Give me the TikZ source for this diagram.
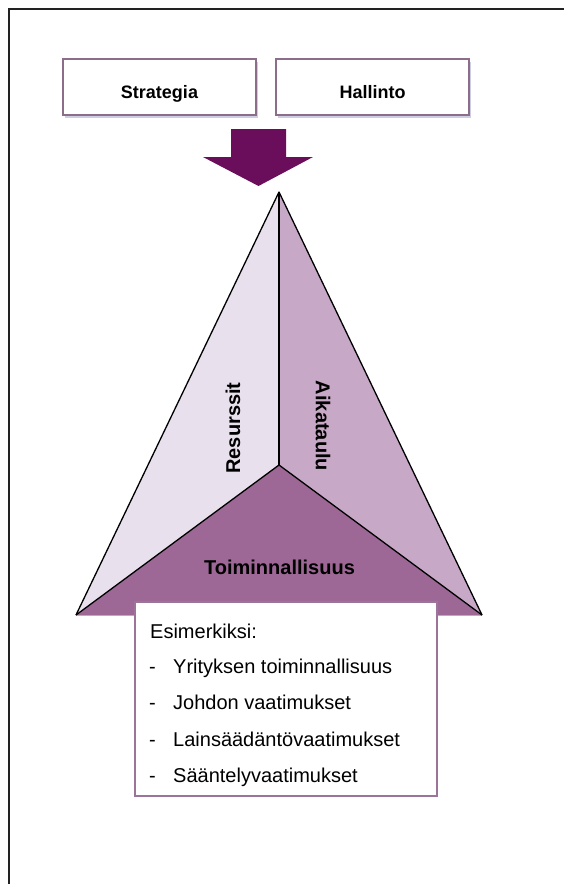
\documentclass[tikz,border=0pt]{standalone}
\usepackage{fontspec}
\setmainfont{Liberation Sans}
\usetikzlibrary{shadows}

\definecolor{framec}{HTML}{222222}
\definecolor{headborder}{HTML}{8C6D8A}
\definecolor{arrowc}{HTML}{6A0D5A}
\definecolor{faceL}{HTML}{E8E0ED}
\definecolor{faceR}{HTML}{C7A9C7}
\definecolor{faceB}{HTML}{9E6896}
\definecolor{listborder}{HTML}{9C7399}

\tikzset{
  headbox/.style={draw=headborder, line width=1.3pt, fill=white,
    minimum width=193pt, minimum height=56pt, inner sep=0pt,
    text height=27pt, text depth=4pt,
    font=\fontsize{18}{21}\selectfont\bfseries,
    drop shadow={shadow xshift=1.5pt, shadow yshift=-2.5pt, opacity=0.3, fill=gray!70!blue}},
  edge/.style={draw=black, line width=1.3pt, line join=round},
  facelabel/.style={font=\fontsize{20}{24}\selectfont\bfseries, inner sep=0pt},
  listtext/.style={font=\fontsize{20}{24}\selectfont, inner sep=0pt, anchor=base west},
}

\begin{document}
\begin{tikzpicture}[x=1pt, y=-1pt]
  \useasboundingbox (0,0) rectangle (563,884);

  % outer frame
  \draw[framec, line width=1.6pt] (9,9) rectangle (580,900);

  % heading boxes
  \node[headbox] (strat) at (159.5,87) {Strategia};
  \node[headbox] (hall)  at (372.5,87) {Hallinto};

  % block arrow pointing down to the apex
  \fill[arrowc] (231,129) -- (286,129) -- (286,157) -- (313,157)
    -- (258.5,186) -- (203,157) -- (231,157) -- cycle;

  % pyramid corners
  \coordinate (apex) at (279,192);
  \coordinate (mid)  at (279,465);
  \coordinate (bl)   at (76,615);
  \coordinate (br)   at (482,615);

  % faces
  \fill[faceL] (apex) -- (mid) -- (bl) -- cycle;
  \fill[faceR] (apex) -- (br) -- (mid) -- cycle;
  \fill[faceB] (bl) -- (mid) -- (br) -- cycle;

  % edges
  \draw[gray!60, line width=0.8pt] (bl) -- (br);
  \draw[edge] (bl) -- (apex) -- (br);
  \draw[edge] (apex) -- (mid);
  \draw[edge] (bl) -- (mid) -- (br);

  % face labels
  \node[facelabel, rotate=90]  (res) at (233,428) {Resurssit};
  \node[facelabel, rotate=-90] (aik) at (323,426) {Aikataulu};
  \node[facelabel] (toi) at (279.5,567) {Toiminnallisuus};

  % examples box
  \node[draw=listborder, line width=1.3pt, fill=white,
        minimum width=302pt, minimum height=194pt, inner sep=0pt]
        (ex) at (286,699) {};
  \node[listtext] (e0) at (150,638) {Esimerkiksi:};
  \node[listtext] (d1) at (149,673.5) {-};
  \node[listtext] (e1) at (173,673.5) {Yrityksen toiminnallisuus};
  \node[listtext] (d2) at (149,709.5) {-};
  \node[listtext] (e2) at (173,709.5) {Johdon vaatimukset};
  \node[listtext] (d3) at (149,746) {-};
  \node[listtext] (e3) at (173,746) {Lainsäädäntövaatimukset};
  \node[listtext] (d4) at (149,782) {-};
  \node[listtext] (e4) at (173,782) {Sääntelyvaatimukset};
\end{tikzpicture}
\end{document}
